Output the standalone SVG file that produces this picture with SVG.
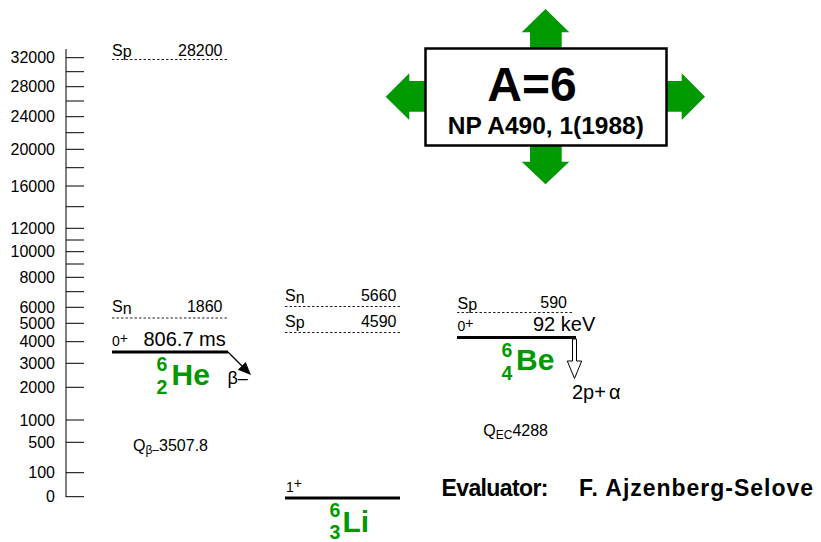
<svg xmlns="http://www.w3.org/2000/svg" width="821" height="542" viewBox="0 0 821 542">
  <style>
    text { font-family: "Liberation Sans", Arial, sans-serif; fill: #000; }
    .ax { font-size: 16px; text-anchor: end; }
    .tick { stroke: #000; stroke-width: 1; }
    .lvl { stroke: #000; stroke-width: 3; }
    .sep { stroke: #222; stroke-width: 1; stroke-dasharray: 2.5 2; }
    .sm { font-size: 16px; }
    .num { font-size: 16px; text-anchor: end; }
    .jp { font-size: 14px; }
    .big { font-size: 20px; }
    .q { font-size: 16px; }
    .idx { font-weight: bold; font-size: 19.5px; fill: #009900; }
    .sym { font-weight: bold; font-size: 30px; fill: #009900; }
    .garrow { fill: #009900; }
    .bold { font-weight: bold; }
  </style>

  <!-- energy axis (keV) -->
  <g id="axis">
    <line class="tick" x1="66" y1="49" x2="66" y2="497"/>
    <g>
      <line class="tick" x1="66" y1="57.7" x2="84" y2="57.7"/>
      <line class="tick" x1="66" y1="71.7" x2="84" y2="71.7"/>
      <line class="tick" x1="66" y1="86.7" x2="84" y2="86.7"/>
      <line class="tick" x1="66" y1="101" x2="84" y2="101"/>
      <line class="tick" x1="66" y1="116.7" x2="84" y2="116.7"/>
      <line class="tick" x1="66" y1="132.7" x2="84" y2="132.7"/>
      <line class="tick" x1="66" y1="149.3" x2="84" y2="149.3"/>
      <line class="tick" x1="66" y1="167.7" x2="84" y2="167.7"/>
      <line class="tick" x1="66" y1="186" x2="84" y2="186"/>
      <line class="tick" x1="66" y1="206.7" x2="84" y2="206.7"/>
      <line class="tick" x1="66" y1="228.3" x2="84" y2="228.3"/>
      <line class="tick" x1="66" y1="240" x2="84" y2="240"/>
      <line class="tick" x1="66" y1="251.7" x2="84" y2="251.7"/>
      <line class="tick" x1="66" y1="264" x2="84" y2="264"/>
      <line class="tick" x1="66" y1="277.3" x2="84" y2="277.3"/>
      <line class="tick" x1="66" y1="291.7" x2="84" y2="291.7"/>
      <line class="tick" x1="66" y1="307.3" x2="84" y2="307.3"/>
      <line class="tick" x1="66" y1="323.3" x2="84" y2="323.3"/>
      <line class="tick" x1="66" y1="341.7" x2="84" y2="341.7"/>
      <line class="tick" x1="66" y1="363.3" x2="84" y2="363.3"/>
      <line class="tick" x1="66" y1="387.3" x2="84" y2="387.3"/>
      <line class="tick" x1="66" y1="420" x2="84" y2="420"/>
      <line class="tick" x1="66" y1="442.3" x2="84" y2="442.3"/>
      <line class="tick" x1="66" y1="472.7" x2="84" y2="472.7"/>
      <line class="tick" x1="66" y1="496.7" x2="84" y2="496.7"/>
    </g>
    <text class="ax" x="55" y="63.3">32000</text>
    <text class="ax" x="55" y="92.3">28000</text>
    <text class="ax" x="55" y="122.3">24000</text>
    <text class="ax" x="55" y="154.9">20000</text>
    <text class="ax" x="55" y="191.6">16000</text>
    <text class="ax" x="55" y="233.9">12000</text>
    <text class="ax" x="55" y="257.3">10000</text>
    <text class="ax" x="55" y="282.9">8000</text>
    <text class="ax" x="55" y="312.9">6000</text>
    <text class="ax" x="55" y="328.9">5000</text>
    <text class="ax" x="55" y="347.3">4000</text>
    <text class="ax" x="55" y="368.9">3000</text>
    <text class="ax" x="55" y="392.9">2000</text>
    <text class="ax" x="55" y="425.6">1000</text>
    <text class="ax" x="55" y="447.9">500</text>
    <text class="ax" x="55" y="478.3">100</text>
    <text class="ax" x="55" y="502.3">0</text>
  </g>

  <!-- 6He -->
  <g id="he6">
    <text class="sm" x="112" y="55.5">S<tspan dy="1.5">p</tspan></text>
    <text class="num" x="222.5" y="55.5">28200</text>
    <line class="sep" x1="112" y1="59.5" x2="228" y2="59.5"/>
    <text class="sm" x="112" y="312">S<tspan dy="2">n</tspan></text>
    <text class="num" x="222.5" y="312">1860</text>
    <line class="sep" x1="112" y1="318" x2="227" y2="318"/>
    <text class="jp" x="112" y="346">0<tspan dy="-3">+</tspan></text>
    <text class="big" x="143.5" y="346">806.7 ms</text>
    <line class="lvl" x1="112" y1="352" x2="228" y2="352"/>
    <text class="idx" x="156.5" y="371">6</text>
    <text class="idx" x="156.5" y="393.5">2</text>
    <text class="sym" x="171.5" y="385">He</text>
    <text class="q" x="133" y="450.5">Q<tspan font-size="12" dy="3">β–</tspan><tspan dy="-3">3507.8</tspan></text>
  </g>

  <!-- 6Li -->
  <g id="li6">
    <text class="sm" x="285" y="300.5">S<tspan dy="2">n</tspan></text>
    <text class="num" x="396.5" y="300.5">5660</text>
    <line class="sep" x1="285" y1="306.5" x2="400" y2="306.5"/>
    <text class="sm" x="285" y="326.5">S<tspan dy="1.5">p</tspan></text>
    <text class="num" x="396.5" y="326.5">4590</text>
    <line class="sep" x1="285" y1="332.5" x2="400" y2="332.5"/>
    <text class="jp" x="286" y="492">1<tspan dy="-4">+</tspan></text>
    <line class="lvl" x1="285" y1="498" x2="400" y2="498"/>
    <text class="idx" x="329.5" y="516.5">6</text>
    <text class="idx" x="329.5" y="539">3</text>
    <text class="sym" x="342.5" y="531.5">Li</text>
  </g>

  <!-- 6Be -->
  <g id="be6">
    <text class="sm" x="457.5" y="308.5">S<tspan dy="1.5">p</tspan></text>
    <text class="num" x="567" y="308">590</text>
    <line class="sep" x1="457" y1="312.5" x2="572" y2="312.5"/>
    <text class="jp" x="457.5" y="331">0<tspan dy="-3">+</tspan></text>
    <text class="big" x="533" y="331">92 keV</text>
    <line class="lvl" x1="457" y1="337.5" x2="576" y2="337.5"/>
    <text class="idx" x="501.5" y="357">6</text>
    <text class="idx" x="501.5" y="380">4</text>
    <text class="sym" x="516" y="370">Be</text>
    <text class="q" x="483.3" y="436">Q<tspan font-size="12" dy="3">EC</tspan><tspan dy="-3">4288</tspan></text>
  </g>

  <!-- decay arrows -->
  <g id="connectors">
    <g id="beta-minus">
      <line x1="228" y1="352" x2="242.5" y2="366.5" stroke="#000" stroke-width="1.2"/>
      <polygon points="251,375 237.9,369.7 245.7,361.9" fill="#000"/>
      <text x="227.5" y="384" font-size="18">β–</text>
    </g>
    <g id="two-p-alpha">
      <polygon points="572.5,339 576.5,339 576.5,361 581.7,361 574.5,378.5 567.3,361 572.5,361" fill="#fff" stroke="#000" stroke-width="1"/>
      <text x="572" y="398.5" font-size="20">2p+<tspan dx="3">α</tspan></text>
    </g>
  </g>

  <!-- mass-chain title -->
  <g id="title">
    <polygon class="garrow" points="530,49 530,32.3 521.7,32.3 545.5,9 569.3,32.3 561.7,32.3 561.7,49"/>
    <polygon class="garrow" points="530,145 530,161.7 521.7,161.7 545.5,184.3 569.3,161.7 561.7,161.7 561.7,145"/>
    <polygon class="garrow" points="426,81 409.3,81 409.3,73.3 385.7,96.7 409.3,120 409.3,111.7 426,111.7"/>
    <polygon class="garrow" points="666,81 681.7,81 681.7,73.3 705,96.7 681.7,120 681.7,111.7 666,111.7"/>
    <rect x="425.5" y="48.5" width="241" height="97" fill="#fff" stroke="#000" stroke-width="2.5"/>
    <text class="bold" x="532" y="100.5" font-size="48" text-anchor="middle">A=6</text>
    <text class="bold" x="545.8" y="133.5" font-size="24.5" text-anchor="middle">NP A490, 1(1988)</text>
  </g>

  <g id="evaluator">
    <text class="bold" x="441.5" y="495.5" font-size="23" textLength="107">Evaluator:</text>
    <text class="bold" x="579" y="495.5" font-size="23" textLength="234">F. Ajzenberg-Selove</text>
  </g>
</svg>
